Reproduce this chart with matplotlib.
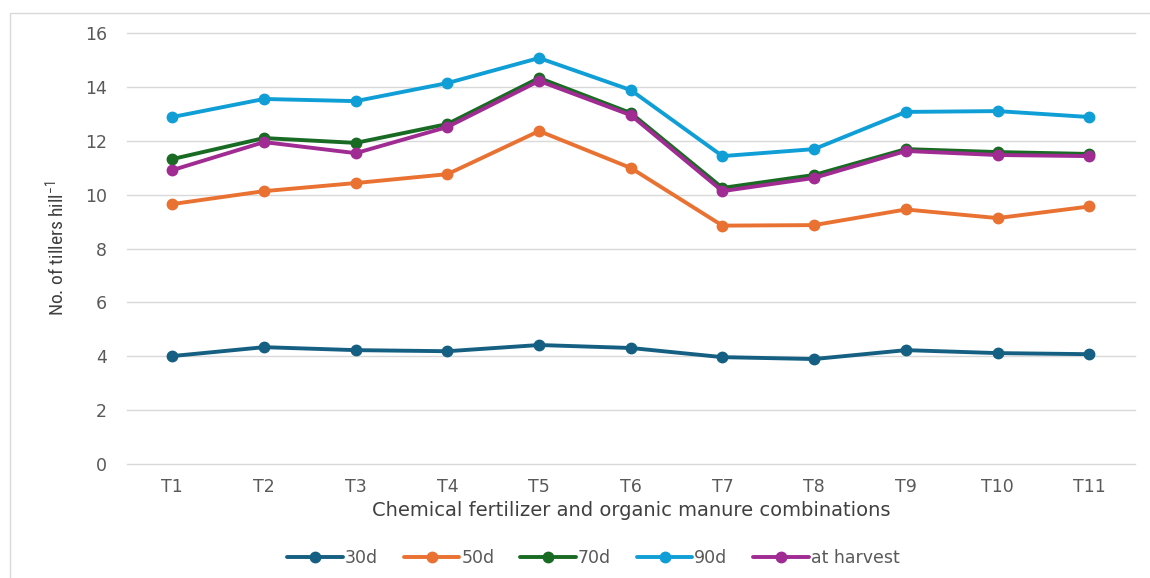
import matplotlib.pyplot as plt
from matplotlib.patches import Rectangle
from matplotlib import font_manager

treatments = ["T1", "T2", "T3", "T4", "T5", "T6", "T7", "T8", "T9", "T10", "T11"]
d30 = [4.01, 4.34, 4.23, 4.19, 4.42, 4.31, 3.97, 3.90, 4.23, 4.12, 4.08]
d50 = [9.65, 10.13, 10.43, 10.76, 12.36, 10.99, 8.85, 8.87, 9.45, 9.13, 9.56]
d70 = [11.32, 12.10, 11.92, 12.62, 14.33, 13.03, 10.25, 10.73, 11.69, 11.58, 11.51]
d90 = [12.88, 13.55, 13.47, 14.14, 15.07, 13.88, 11.43, 11.69, 13.07, 13.10, 12.88]
harvest = [10.91, 11.95, 11.54, 12.51, 14.22, 12.95, 10.13, 10.62, 11.62, 11.47, 11.43]

series = [("30d", d30, "#156082"), ("50d", d50, "#E97132"), ("70d", d70, "#196B24"),
          ("90d", d90, "#0F9ED5"), ("at harvest", harvest, "#A02B93")]

plt.rcParams['font.family'] = ['DejaVu Sans']

# condensed font for the y label, if one is around
names = {f.name for f in font_manager.fontManager.ttflist}
narrow = 'Liberation Sans Narrow' if 'Liberation Sans Narrow' in names else 'Roboto Condensed'
if narrow not in names:
    narrow = 'DejaVu Sans'

fig = plt.figure(figsize=(11.5, 5.78), dpi=100)
ax = fig.add_axes([0.110, 0.197, 0.877, 0.746])

x = list(range(len(treatments)))
for name, vals, col in series:
    ax.plot(x, vals, color=col, lw=2.8, marker='o', ms=7.5, label=name, solid_capstyle='round')

ax.set_xlim(-0.5, len(treatments) - 0.5)
ax.set_ylim(0, 16)
ax.set_yticks(range(0, 17, 2))
ax.set_xticks(x)
ax.set_xticklabels(treatments)
ax.grid(axis='y', color='#d9d9d9', lw=1)
for gl in ax.get_ygridlines():
    gl.set_clip_on(False)
ax.set_axisbelow(True)
for s in ax.spines.values():
    s.set_visible(False)
ax.tick_params(length=0, labelsize=12.5, colors='#595959')
ax.tick_params(axis='y', pad=14)
ax.tick_params(axis='x', pad=10)

ax.set_xlabel("Chemical fertilizer and organic manure combinations", fontsize=14, color='#404040')
ax.xaxis.set_label_coords(0.5, -0.086)
ax.set_ylabel("No. of tillers hill$^{\\mathregular{-1}}$", fontsize=14, color='#404040',
              family=narrow, fontstretch='condensed')
ax.yaxis.set_label_coords(-0.058, 0.5)

ax.legend(loc='center', bbox_to_anchor=(0.463, -0.218), ncol=5, frameon=False,
          fontsize=12.5, labelcolor='#595959', handlelength=3.2, handletextpad=0.1, columnspacing=1.5)

fig.patches.append(Rectangle((0.009, -0.01), 1.1, 0.988, transform=fig.transFigure,
                             fill=False, edgecolor='#d9d9d9', lw=1))

fig.savefig("out.png", dpi=100)
